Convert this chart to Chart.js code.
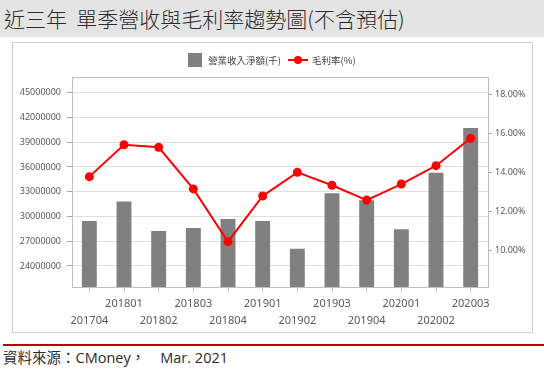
<!DOCTYPE html>
<html>
<head>
<meta charset="utf-8">
<script src="https://cdn.jsdelivr.net/npm/chart.js@4.4.0/dist/chart.umd.min.js"></script>
<style>
  body { margin: 0; width: 544px; height: 385px; background: #fff; position: relative; overflow: hidden; font-family: "Noto Sans CJK TC", sans-serif; }
  #title { position: absolute; left: 0; top: 0; width: 544px; height: 37px; background: #e4e4e4; font-size: 21px; font-weight: 300; line-height: 37px; color: #2b2b2b; padding-left: 4px; box-sizing: border-box; white-space: pre; }
  #box { position: absolute; left: 12px; top: 42px; width: 521px; height: 291px; border: 1px solid #cfcfcf; box-sizing: border-box; background: #fff; }
  #chart { position: absolute; left: 0; top: 0; }
  #rule { position: absolute; left: 3px; top: 344px; width: 541px; height: 2px; background: #c00000; }
  #source { position: absolute; left: 3px; top: 348px; font-family: "Open Sans", "Noto Sans CJK TC", sans-serif; font-size: 14.5px; line-height: 19px; color: #2b2b2b; white-space: pre; }
</style>
</head>
<body>
<div id="title">近三年  單季營收與毛利率趨勢圖(不含預估)</div>
<div id="box"><canvas id="chart" width="519" height="289"></canvas></div>
<div id="rule"></div>
<div id="source">資料來源：CMoney，    Mar. 2021</div>
<script>
const quarters = ["201704", "201801", "201802", "201803", "201804", "201901",
                  "201902", "201903", "201904", "202001", "202002", "202003"];
const revenue = [29450000, 31800000, 28240000, 28600000, 29700000, 29450000,
                 26100000, 32800000, 31960000, 28450000, 35300000, 40730000];
const margin = [13.79, 15.42, 15.29, 13.16, 10.46, 12.80,
                14.01, 13.35, 12.59, 13.41, 14.35, 15.75];
const revTicks = [24000000, 27000000, 30000000, 33000000, 36000000, 39000000, 42000000, 45000000];
const marginTicks = [10, 12, 14, 16, 18];

// labels alternate between two rows like the original
const labels = quarters.map((q, i) => (i % 2 ? [q, ""] : ["", q]));

const tickFont = { family: "Noto Sans", size: 9 };

// top border of the plot + hand drawn legend (line with dot)
const frame = {
  id: "frame",
  afterDraw(chart) {
    const { ctx, chartArea: a } = chart;
    ctx.save();
    ctx.strokeStyle = "#bfbfbf";
    ctx.lineWidth = 1;
    ctx.beginPath();
    ctx.moveTo(a.left, a.top + 0.5);
    ctx.lineTo(a.right, a.top + 0.5);
    ctx.stroke();

    const ds = chart.data.datasets;
    ctx.font = '9.5px "Noto Sans CJK TC"';
    ctx.textBaseline = "middle";
    ctx.fillStyle = "#808080";
    ctx.fillRect(175, 10, 14, 14);
    ctx.fillStyle = "#404040";
    ctx.fillText(ds[1].label, 195, 17);

    ctx.strokeStyle = "#ff0000";
    ctx.lineWidth = 2;
    ctx.beginPath();
    ctx.moveTo(275, 17);
    ctx.lineTo(295, 17);
    ctx.stroke();
    ctx.fillStyle = "#ff0000";
    ctx.beginPath();
    ctx.arc(285, 17, 4, 0, Math.PI * 2);
    ctx.fill();
    ctx.fillStyle = "#404040";
    ctx.fillText(ds[0].label, 299, 17);
    ctx.restore();
  }
};

new Chart(document.getElementById("chart").getContext("2d"), {
  type: "bar",
  data: {
    labels: labels,
    datasets: [
      {
        type: "line",
        label: "毛利率(%)",
        data: margin,
        yAxisID: "y1",
        borderColor: "#ff0000",
        backgroundColor: "#ff0000",
        borderWidth: 2,
        pointRadius: 4.5,
        pointBorderWidth: 0,
        tension: 0,
        order: 0,
      },
      {
        label: "營業收入淨額(千)",
        data: revenue,
        yAxisID: "y",
        backgroundColor: "#808080",
        barPercentage: 0.43,
        categoryPercentage: 1,
        order: 1,
      },
    ],
  },
  options: {
    responsive: false,
    animation: false,
    layout: { padding: { top: 34, left: 0, right: 0, bottom: 0 } },
    plugins: {
      legend: { display: false },
      tooltip: { enabled: false },
    },
    scales: {
      x: {
        offset: true,
        grid: { offset: false, drawOnChartArea: false, tickLength: 5, color: "#bfbfbf" },
        border: { color: "#bfbfbf" },
        ticks: { font: { family: "Noto Sans", size: 11, lineHeight: 1.58 }, color: "#595959", padding: 3, maxRotation: 0, autoSkip: false },
        afterFit: (s) => { s.height = 45; },
      },
      y: {
        position: "left",
        min: 21450000,
        max: 46900000,
        afterBuildTicks: (s) => { s.ticks = revTicks.map((v) => ({ value: v })); },
        grid: { color: "#dedede", tickColor: "#a6a6a6", tickLength: 5 },
        border: { color: "#bfbfbf" },
        ticks: { font: tickFont, color: "#595959", padding: 6, callback: (v) => String(v) },
        afterFit: (s) => { s.width = 59; },
      },
      y1: {
        position: "right",
        min: 8.14,
        max: 18.89,
        afterBuildTicks: (s) => { s.ticks = marginTicks.map((v) => ({ value: v })); },
        grid: { drawOnChartArea: false, tickColor: "#a6a6a6", tickLength: 4 },
        border: { color: "#bfbfbf" },
        ticks: { font: tickFont, color: "#595959", padding: 3, callback: (v) => v.toFixed(2) + "%" },
        afterFit: (s) => { s.width = 44; },
      },
    },
  },
  plugins: [frame],
});
</script>
</body>
</html>
